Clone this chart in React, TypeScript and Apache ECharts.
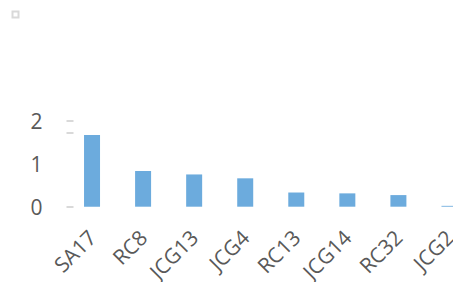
import React, { useEffect, useRef } from "react";
import * as echarts from "echarts";

const categories = ["SA17", "RC8", "JCG13", "JCG4", "RC13", "JCG14", "RC32", "JCG2"];
const values = [1.67, 0.83, 0.75, 0.66, 0.33, 0.31, 0.27, 0.02];
const tickValues = [0, 1.71, 2];

export default function App() {
  const ref = useRef<HTMLDivElement>(null);
  useEffect(() => {
    const chart = echarts.init(ref.current!, undefined, { renderer: "svg" });
    chart.setOption({
      animation: false,
      grid: {
        left: 66.5,
        right: 0,
        top: 120.7,
        bottom: 75.3,
        containLabel: false,
        outerBoundsMode: "none",
      },
      graphic: [
        {
          type: "rect",
          shape: { x: 12.5, y: 11.5, width: 6, height: 6 },
          style: { fill: "#ffffff", stroke: "#d9d9d9", lineWidth: 2 },
        },
      ],
      xAxis: {
        type: "category",
        data: categories,
        axisLine: { show: false },
        axisTick: { show: false },
        axisLabel: {
          rotate: 45,
          margin: 27,
          color: "#595959",
          fontFamily: "Open Sans",
          fontSize: 21,
          interval: 0,
        },
      },
      yAxis: {
        type: "value",
        min: 0,
        max: 2,
        interval: 1,
        splitLine: { show: false },
        axisLine: { show: false },
        axisTick: {
          show: true,
          inside: true,
          length: 7,
          customValues: tickValues,
          lineStyle: { color: "#d9d9d9", width: 2 },
        },
        axisLabel: {
          margin: 24,
          color: "#595959",
          fontFamily: "Open Sans",
          fontSize: 21,
        },
      },
      series: [
        {
          type: "bar",
          data: values,
          barWidth: 16,
          itemStyle: { color: "#6cabdd" },
        },
      ],
    });
    return () => chart.dispose();
  }, []);
  return (
    <div style={{ width: 453, height: 282, position: "absolute", left: 0, top: 0, overflow: "hidden" }}>
      <div ref={ref} style={{ width: 475, height: 282 }} />
    </div>
  );
}
